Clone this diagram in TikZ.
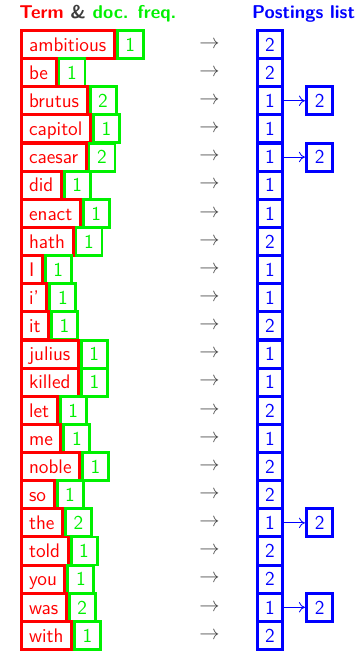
\documentclass[tikz,border=0pt]{standalone}
\usetikzlibrary{arrows.meta}
\definecolor{termred}{RGB}{255,0,0}
\definecolor{freqgreen}{RGB}{0,240,0}
\definecolor{postblue}{RGB}{0,0,255}
\definecolor{ptrgray}{RGB}{70,70,70}
\definecolor{ampgray}{RGB}{60,60,60}

\begin{document}
\begin{tikzpicture}[every node/.style={font=\fontsize{14}{17}\selectfont\sffamily},
	cell/.style={draw, line width=2.1pt, minimum height=0.7cm, text height=0.34cm, text depth=0pt, inner xsep=0.2cm, inner ysep=0.1cm},
	termbox/.style={cell, termred, anchor=west},
	freqbox/.style={cell, freqgreen, anchor=west, minimum width=0.65cm, inner xsep=0pt},
	postbox/.style={cell, postblue, minimum width=0.63cm, inner xsep=0pt},
	ptr/.style={ptrgray, inner sep=0pt},
	>={To[length=1.5mm, width=2.6mm]}]
	\useasboundingbox (0,0) rectangle (9,-16.325);
	\node[anchor=base west, inner sep=0pt, font=\fontsize{13.2}{16}\selectfont\sffamily] (head1) at (0.475,-0.45) {\bfseries\textcolor{termred}{Term} \textcolor{ampgray}{\&} \textcolor{freqgreen}{doc. freq.}};
	\node[anchor=base, inner sep=0pt, postblue, font=\fontsize{13.2}{16}\selectfont\sffamily] (head2) at (7.59,-0.45) {\bfseries Postings list};
	\foreach \term/\freq/\post [count=\i] in {ambitious/1/2, be/1/2, brutus/2/1, capitol/1/1, caesar/2/1, did/1/1, enact/1/1, hath/1/2, I/1/1, i'/1/1, it/1/2, julius/1/1, killed/1/1, let/1/2, me/1/1, noble/1/2, so/1/2, the/2/1, told/1/2, you/1/2, was/2/1, with/1/2} {
		\node[termbox] (t\i) at (0.49,{-1.112-0.7035*(\i-1)}) {\term};
		\node[freqbox] (f\i) at (t\i.east) {\freq};
		\node[ptr] (a\i) at (5.24,{-1.112-0.7035*(\i-1)}) {$\rightarrow$};
		\node[postbox] (p\i) at (6.75,{-1.112-0.7035*(\i-1)}) {\post};
	}
	% second postings
	\foreach \i in {3,5,18,21} {
		\node[postbox, minimum width=0.66cm] (q\i) at (7.99,{-1.112-0.7035*(\i-1)}) {2};
		\draw[->, postblue, line width=0.6pt] (p\i) -- (q\i);
	}
\end{tikzpicture}
\end{document}
